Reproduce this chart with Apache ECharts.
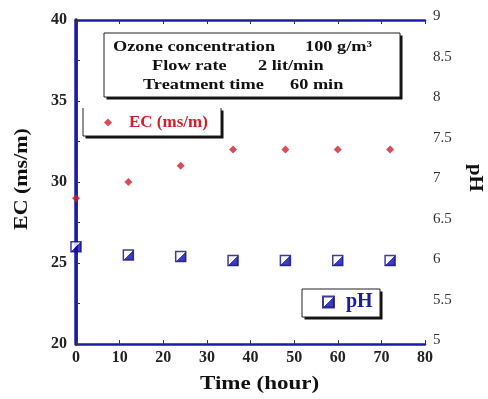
<!DOCTYPE html>
<html>
<head>
<meta charset="utf-8">
<script src="https://cdn.jsdelivr.net/npm/echarts@6/dist/echarts.min.js"></script>
<style>
  html, body { margin: 0; padding: 0; background: #fff; }
  #chart { width: 488px; height: 399px; }
</style>
</head>
<body>
<div id="chart"></div>
<script>
// data
const timeHours = [0, 12, 24, 36, 48, 60, 72];
const ecValues = [29, 30, 31, 32, 32, 32, 32];
const phValues = [6.2, 6.1, 6.08, 6.03, 6.03, 6.03, 6.03];
const infoLines = [
  ['Ozone concentration', '100 g/m\u00b3'],
  ['Flow rate', '2 lit/min'],
  ['Treatment time', '60 min']
];

const BLUE = '#1c1ca6';
const RED = '#d0202e';
const FONT = '"Liberation Serif", "DejaVu Serif", serif';

const chart = echarts.init(document.getElementById('chart'));

const phFill = new echarts.graphic.LinearGradient(0, 0, 1, 1, [
  { offset: 0, color: '#ffffff' },
  { offset: 0.5, color: '#ffffff' },
  { offset: 0.5, color: '#0c0cb0' },
  { offset: 1, color: '#0c0cb0' }
]);

// stretched serif text (the figure's type is wide)
function wideText(x, y, text, size, opts) {
  return Object.assign({
    type: 'text', x: x, y: y, scaleX: 1.22, z: 12,
    style: { text: text, font: 'bold ' + size + 'px ' + FONT, fill: '#111', textVerticalAlign: 'middle' }
  }, opts || {});
}

// box with a hard black drop shadow; openTop leaves the top edge off
function shadowBox(x, y, w, h, openTop) {
  const shadow = { type: 'rect', x: x + 2.5, y: y + 2.5, z: 8, shape: { width: w, height: h }, style: { fill: '#111' } };
  const face = { type: 'rect', x: x, y: y, z: 9, shape: { width: w, height: h }, style: { fill: '#fff', stroke: openTop ? null : '#222', lineWidth: 1 } };
  const out = [shadow, face];
  if (openTop) {
    out.push({
      type: 'polyline', z: 10,
      shape: { points: [[x, y], [x, y + h], [x + w, y + h], [x + w, y]] },
      style: { stroke: '#222', lineWidth: 1, fill: null }
    });
  }
  return out;
}

chart.setOption({
  backgroundColor: '#fff',
  animation: false,
  grid: { left: 76, right: 63, top: 20, bottom: 55 },
  legend: [
    {
      data: ['EC (ms/m)'], left: 104, top: 114, z: 12,
      padding: 0, itemWidth: 8, itemHeight: 8,
      textStyle: { color: RED, fontFamily: FONT, fontWeight: 'bold', fontSize: 17, padding: [0, 0, 0, 12] }
    },
    {
      data: ['pH'], left: 322, top: 292, z: 12,
      padding: 0, itemWidth: 11, itemHeight: 11,
      textStyle: { color: BLUE, fontFamily: FONT, fontWeight: 'bold', fontSize: 20, padding: [0, 0, 0, 7] }
    }
  ],
  xAxis: [
    {
      type: 'value', min: 0, max: 80, interval: 10, position: 'bottom',
      axisLine: { lineStyle: { color: BLUE, width: 2.5 } },
      axisTick: { inside: true, length: 4, lineStyle: { color: '#333' } },
      axisLabel: { fontFamily: FONT, fontWeight: 'bold', fontSize: 16, color: '#222', margin: 6 },
      splitLine: { show: false }
    },
    {
      type: 'value', min: 0, max: 80, interval: 10, position: 'top',
      axisLine: { lineStyle: { color: BLUE, width: 2.5 } },
      axisTick: { inside: true, length: 4, lineStyle: { color: '#333' } },
      axisLabel: { show: false },
      splitLine: { show: false }
    }
  ],
  yAxis: [
    {
      type: 'value', min: 20, max: 40, interval: 5, position: 'left',
      axisLine: { show: true, lineStyle: { color: BLUE, width: 3.5 } },
      axisTick: { show: true, inside: true, length: 4, lineStyle: { color: '#333' } },
      axisLabel: { fontFamily: FONT, fontWeight: 'bold', fontSize: 16, color: '#222', margin: 9 },
      splitLine: { show: false }
    },
    {
      type: 'value', min: 5, max: 9, interval: 0.5, position: 'right',
      axisLine: { show: true, lineStyle: { color: BLUE, width: 2.5 } },
      axisTick: { show: true, inside: false, length: 4, lineStyle: { color: '#333' } },
      axisLabel: {
        fontFamily: FONT, fontSize: 15, color: '#333', margin: 8,
        verticalAlign: 'bottom', padding: [0, 0, -4, 0],
        formatter: v => String(v)
      },
      splitLine: { show: false }
    }
  ],
  series: [
    {
      name: 'EC (ms/m)', type: 'scatter', xAxisIndex: 0, yAxisIndex: 0,
      symbol: 'diamond', symbolSize: 8,
      itemStyle: { color: RED },
      data: timeHours.map((t, i) => [t, ecValues[i]]), z: 5
    },
    {
      name: 'pH', type: 'scatter', xAxisIndex: 0, yAxisIndex: 1,
      symbol: 'rect', symbolSize: 10,
      itemStyle: { color: phFill, borderColor: '#0c0c80', borderWidth: 1.5 },
      data: timeHours.map((t, i) => [t, phValues[i]]), z: 5
    }
  ],
  graphic: [
    ...shadowBox(104, 33, 296, 64),
    wideText(113, 47, infoLines[0][0], 15),
    wideText(305, 47, infoLines[0][1], 15),
    wideText(152, 66, infoLines[1][0], 15),
    wideText(258, 66, infoLines[1][1], 15),
    wideText(143, 85, infoLines[2][0], 15),
    wideText(290, 85, infoLines[2][1], 15),
    ...shadowBox(83, 108, 138, 28, true),
    ...shadowBox(302, 289, 78, 28),
    // axis titles
    wideText(200, 384, 'Time (hour)', 18, { scaleX: 1.28 }),
    wideText(22, 230, 'EC (ms/m)', 18, { rotation: Math.PI / 2 }),
    wideText(475, 164, 'pH', 19, { rotation: -Math.PI / 2, scaleX: 1.1 })
  ]
});
</script>
</body>
</html>
